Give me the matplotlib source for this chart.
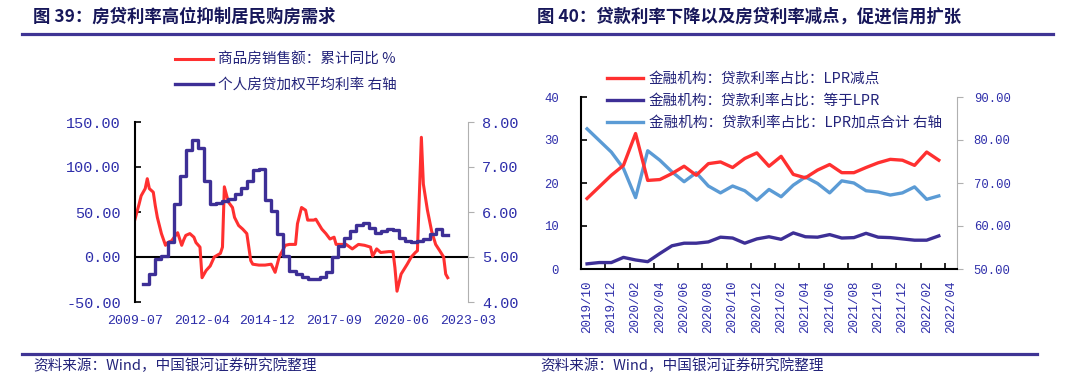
import matplotlib
matplotlib.use('Agg')
import matplotlib.pyplot as plt
from matplotlib.lines import Line2D
from matplotlib.ticker import FormatStrFormatter, MultipleLocator, FixedLocator
import numpy as np
import pandas as pd

plt.rcParams['font.family'] = ['Liberation Mono', 'Noto Sans CJK SC', 'DejaVu Sans']
CJK = ['Noto Sans CJK SC', 'DejaVu Sans']

# ---- 图39 数据 ----
sales_dates = ['2009-07', '2009-09', '2009-10', '2009-12', '2010-01', '2010-02', '2010-04', '2010-05',
               '2010-06', '2010-08', '2010-10', '2010-11', '2011-01', '2011-03', '2011-04', '2011-06',
               '2011-07', '2011-08', '2011-10', '2011-12', '2012-01', '2012-03', '2012-04', '2012-06',
               '2012-08', '2012-10', '2013-01', '2013-02', '2013-03', '2013-05', '2013-07', '2013-08',
               '2013-10', '2013-12', '2014-02', '2014-04', '2014-05', '2014-08', '2014-11', '2015-02',
               '2015-04', '2015-06', '2015-09', '2015-11', '2016-02', '2016-03', '2016-05', '2016-07',
               '2016-08', '2016-11', '2016-12', '2017-03', '2017-05', '2017-07', '2017-09', '2017-10',
               '2018-01', '2018-03', '2018-06', '2018-09', '2018-12', '2019-03', '2019-04', '2019-06',
               '2019-08', '2019-12', '2020-02', '2020-03', '2020-04', '2020-06', '2020-09', '2020-11',
               '2021-01', '2021-02', '2021-04', '2021-05', '2021-07', '2021-09', '2021-11', '2022-01',
               '2022-03', '2022-04', '2022-05']
sales_yoy = [42, 59, 68, 76, 87, 76, 72, 57,
             44, 26, 13, 16, 18, 24, 27, 13,
             19, 24, 26, 22, 16, 11, -23, -15,
             -10, 0, 4, 11, 78, 61, 55, 44,
             35, 31, 26, -4, -8, -9, -9, -8,
             -17, 0, 13, 14, 14, 37, 55, 52,
             41, 41, 42, 31, 26, 20, 22, 14,
             14, 14, 9, 14, 13, 11, 1, 9,
             5, 6, 6, -12, -38, -19, -8, 0,
             5, 7, 133, 81, 52, 29, 14, 7,
             0, -19, -23]

mortgage_start = '2009-11'
mortgage_rate = [4.41, 4.62, 4.95, 5.03, 5.33, 6.18, 6.81, 7.37, 7.61, 7.43,
                 6.70, 6.18, 6.20, 6.25, 6.30, 6.40, 6.54, 6.70, 6.94, 6.96,
                 6.26, 6.03, 5.51, 5.03, 4.70, 4.62, 4.55, 4.51, 4.51, 4.55,
                 4.67, 4.99, 5.25, 5.42, 5.57, 5.72, 5.75, 5.65, 5.53, 5.57,
                 5.62, 5.60, 5.42, 5.36, 5.33, 5.36, 5.40, 5.51, 5.62, 5.48, 5.48]

left_xticks = ['2009-07', '2012-04', '2014-12', '2017-09', '2020-06', '2023-03']

# ---- 图40 数据 ----
months = ['2019/10', '2019/11', '2019/12', '2020/01', '2020/02', '2020/03', '2020/04', '2020/05',
          '2020/06', '2020/07', '2020/08', '2020/09', '2020/10', '2020/11', '2020/12', '2021/01',
          '2021/02', '2021/03', '2021/04', '2021/05', '2021/06', '2021/07', '2021/08', '2021/09',
          '2021/10', '2021/11', '2021/12', '2022/01', '2022/02', '2022/03', '2022/04']
lpr_minus = [16.4, 19.1, 21.8, 24.1, 31.5, 20.6, 20.8, 22.2, 23.9, 21.8,
             24.5, 24.9, 23.6, 25.7, 27.0, 23.9, 26.2, 22.0, 21.2, 23.0,
             24.3, 22.4, 22.4, 23.6, 24.7, 25.5, 25.3, 24.1, 27.2, 25.3]
lpr_equal = [1.2, 1.5, 1.5, 2.7, 2.1, 1.7, 3.6, 5.4, 6.0, 6.0,
             6.3, 7.4, 7.2, 6.0, 7.0, 7.5, 6.9, 8.4, 7.5, 7.4,
             8.0, 7.2, 7.3, 8.3, 7.4, 7.3, 7.0, 6.7, 6.7, 7.7]
lpr_plus = [82.6, 79.9, 77.2, 73.4, 66.6, 77.5, 75.3, 72.6, 70.3, 72.4,
            69.3, 67.7, 69.3, 68.2, 66.0, 68.5, 66.8, 69.5, 71.4, 69.9,
            67.7, 70.5, 70.0, 68.2, 67.9, 67.2, 67.7, 69.1, 66.2, 67.0]

RED = '#ff3030'
PURPLE = '#3d2f96'
LBLUE = '#5b9bd5'
TICKC = '#2e2eaa'
TXTC = '#23237a'
NAVY = '#17175a'
RULE = '#3f3494'

W, H = 1079, 381
def box(l, t, r, b):
    return [l / W, 1 - b / H, (r - l) / W, (b - t) / H]

fig = plt.figure(figsize=(W / 100, H / 100), dpi=100)

# 标题与横线
fig.text(33 / W, 1 - 17 / H, '图 39：房贷利率高位抑制居民购房需求', family=CJK, fontsize=12.5,
         fontweight='bold', color=NAVY, va='center')
fig.text(537 / W, 1 - 17 / H, '图 40：贷款利率下降以及房贷利率减点，促进信用扩张', family=CJK, fontsize=12.5,
         fontweight='bold', color=NAVY, va='center')
fig.add_artist(Line2D([22 / W, 1053 / W], [1 - 34 / H] * 2, color=RULE, lw=2.3))
fig.add_artist(Line2D([22 / W, 1037 / W], [1 - 354 / H] * 2, color=RULE, lw=2.3))
fig.text(33 / W, 1 - 366 / H, '资料来源：Wind，中国银河证券研究院整理', family=CJK, fontsize=10.5,
         color=TXTC, va='center', style='italic')
fig.text(540 / W, 1 - 366 / H, '资料来源：Wind，中国银河证券研究院整理', family=CJK, fontsize=10.5,
         color=TXTC, va='center', style='italic')

# ---- 左图 ----
ax1 = fig.add_axes(box(135, 122, 468, 302))
ax1r = ax1.twinx()
l1, = ax1.plot(pd.to_datetime(sales_dates), sales_yoy, color=RED, lw=2.2)
mdates_blue = pd.date_range(mortgage_start, periods=len(mortgage_rate), freq='3MS')
l2, = ax1r.plot(mdates_blue, mortgage_rate, color=PURPLE, lw=2.4, drawstyle='steps-post')
ax1.axhline(0, color='black', lw=1.5, zorder=1)
ax1.set_ylim(-50, 150)
ax1.yaxis.set_major_locator(MultipleLocator(50))
ax1.yaxis.set_major_formatter(FormatStrFormatter('%.2f'))
ax1r.set_ylim(4, 8)
ax1r.yaxis.set_major_locator(MultipleLocator(1))
ax1r.yaxis.set_major_formatter(FormatStrFormatter('%.2f'))
ax1.set_xlim(pd.Timestamp('2009-07-01'), pd.Timestamp('2023-03-01'))
ax1.set_xticks(pd.to_datetime(left_xticks))
ax1.set_xticklabels(left_xticks)
for a in (ax1, ax1r):
    for s in ('top', 'bottom'):
        a.spines[s].set_visible(False)
ax1r.spines['left'].set_visible(False)
ax1.spines['right'].set_visible(False)
ax1.spines['left'].set_color('black')
ax1.spines['left'].set_linewidth(1.5)
ax1r.spines['right'].set_color('#b0b0b0')
ax1.tick_params(axis='x', length=0, pad=9, labelsize=9.5, labelcolor=TICKC)
ax1.tick_params(axis='y', direction='in', length=4, width=1.2, pad=10, labelsize=11, labelcolor=TICKC)
ax1r.tick_params(axis='y', direction='out', length=4, color='#b0b0b0', pad=6, labelsize=11, labelcolor=TICKC)
ax1.legend([l1, l2], ['商品房销售额：累计同比 %', '个人房贷加权平均利率 右轴'],
           loc='upper left', bbox_to_anchor=(175 / W, 1 - 53 / H), bbox_transform=fig.transFigure,
           frameon=False, borderpad=0, borderaxespad=0, handlelength=2.6, handletextpad=0.35,
           labelspacing=0.75, prop={'family': CJK, 'size': 10.5}, labelcolor=TXTC)

# ---- 右图 ----
ax2 = fig.add_axes(box(581, 97, 957, 269))
ax2r = ax2.twinx()
x = np.arange(len(lpr_minus))
m1, = ax2.plot(x, lpr_minus, color=RED, lw=2.4)
m2, = ax2.plot(x, lpr_equal, color=PURPLE, lw=2.4)
m3, = ax2r.plot(x, lpr_plus, color=LBLUE, lw=2.4)
ax2.set_ylim(0, 40)
ax2.yaxis.set_major_locator(MultipleLocator(10))
ax2r.set_ylim(50, 90)
ax2r.yaxis.set_major_locator(MultipleLocator(10))
ax2r.yaxis.set_major_formatter(FormatStrFormatter('%.2f'))
ax2.set_xlim(-0.5, len(months) - 0.5)
ax2.set_xticks(np.arange(0, len(months), 2))
ax2.set_xticklabels(months[::2], rotation=90)
ax2.xaxis.set_minor_locator(FixedLocator(np.arange(1.5, len(months) - 1, 2)))
for a in (ax2, ax2r):
    a.spines['top'].set_visible(False)
ax2.spines['right'].set_visible(False)
ax2r.spines['left'].set_visible(False)
ax2r.spines['bottom'].set_visible(False)
ax2.spines['left'].set_linewidth(1.5)
ax2.spines['bottom'].set_linewidth(1.5)
ax2r.spines['right'].set_color('#b0b0b0')
ax2.tick_params(axis='x', which='major', length=0, pad=8, labelsize=9, labelcolor=TICKC)
ax2.tick_params(axis='x', which='minor', direction='in', length=4, width=1.2)
ax2.tick_params(axis='y', direction='in', length=4, width=1.2, pad=16, labelsize=8.8, labelcolor=TICKC)
ax2r.tick_params(axis='y', direction='out', length=4, color='#b0b0b0', pad=8, labelsize=8.8, labelcolor=TICKC)
ax2.legend([m1, m2, m3], ['金融机构：贷款利率占比：LPR减点', '金融机构：贷款利率占比：等于LPR',
                          '金融机构：贷款利率占比：LPR加点合计 右轴'],
           loc='upper left', bbox_to_anchor=(607 / W, 1 - 72 / H), bbox_transform=fig.transFigure,
           frameon=False, borderpad=0, borderaxespad=0, handlelength=2.5, handletextpad=0.35,
           labelspacing=0.55, prop={'family': CJK, 'size': 10.5}, labelcolor=TXTC)
ax2.set_zorder(ax2r.get_zorder() + 1)
ax2.patch.set_visible(False)

fig.savefig('out.png', dpi=100)
